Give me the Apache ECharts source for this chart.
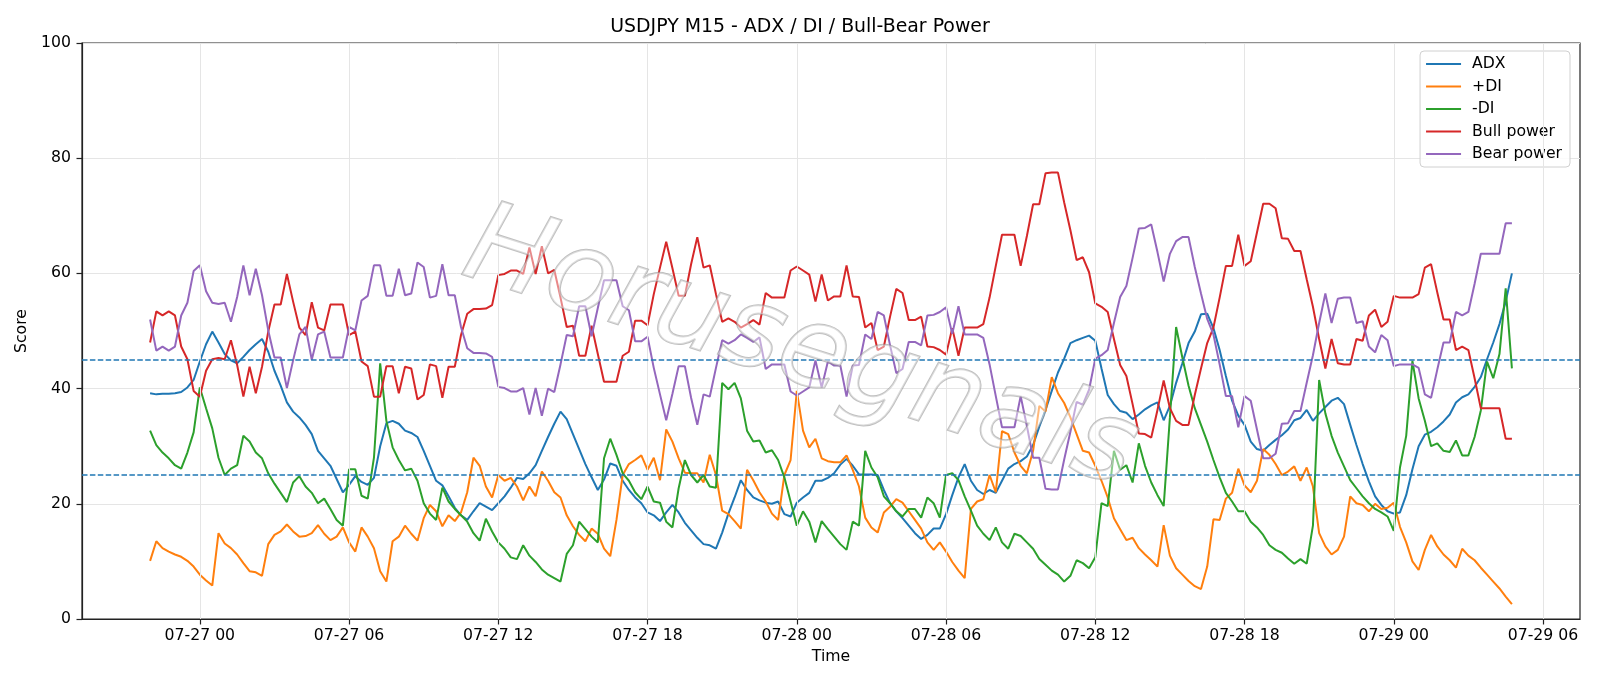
<!DOCTYPE html>
<html>
<head>
<meta charset="utf-8">
<title>USDJPY M15 - ADX / DI / Bull-Bear Power</title>
<script src="https://cdn.jsdelivr.net/npm/echarts@6/dist/echarts.min.js"></script>
<style>
  html, body { margin: 0; padding: 0; background: #fff; }
  #chart { width: 1600px; height: 686px; }
</style>
</head>
<body>
<div id="chart"></div>
<script>
// 15-minute bars; x is hours from 07-27 00:00, first bar is 07-26 22:00
const startHour = -2;
const stepHour = 0.25;

const adx = [
  39.2, 39.0, 39.1, 39.1, 39.2, 39.4, 40.2, 41.5, 44.7, 47.7, 49.9, 48.0, 46.0, 44.9, 44.4, 45.5, 46.7, 47.7, 48.6, 46.4,
  43.1, 40.5, 37.6, 36.0, 35.0, 33.7, 32.1, 29.2, 27.9, 26.6, 24.3, 22.0, 23.3, 24.8, 23.8, 23.3, 24.5, 30.0, 34.0, 34.4,
  33.9, 32.7, 32.3, 31.6, 29.2, 26.6, 24.0, 23.2, 21.3, 19.3, 18.0, 17.2, 18.7, 20.1, 19.5, 18.9, 20.1, 21.3, 22.8, 24.5,
  24.3, 25.3, 26.7, 29.2, 31.6, 33.9, 36.0, 34.7, 32.1, 29.5, 26.9, 24.6, 22.4, 24.2, 27.0, 26.6, 24.0, 22.4, 21.1, 20.1,
  18.5, 18.0, 17.0, 18.5, 19.8, 18.5, 16.7, 15.4, 14.1, 13.0, 12.8, 12.2, 15.0, 18.3, 21.1, 24.1, 22.4, 21.1, 20.6, 20.2,
  20.0, 20.4, 18.2, 17.8, 20.2, 21.1, 21.9, 24.0, 24.0, 24.5, 25.3, 26.8, 27.8, 26.6, 25.1, 25.1, 25.1, 25.0, 22.4, 20.1,
  18.7, 17.5, 16.2, 14.9, 13.9, 14.6, 15.7, 15.7, 18.2, 21.5, 24.6, 26.9, 24.0, 22.4, 21.7, 22.4, 21.9, 24.0, 26.1, 26.9,
  27.4, 28.2, 30.2, 33.4, 36.3, 39.6, 42.8, 45.2, 47.9, 48.4, 48.8, 49.2, 48.3, 43.5, 38.9, 37.3, 36.1, 35.8, 34.7, 35.5,
  36.4, 37.1, 37.6, 34.5, 37.0, 41.0, 44.4, 47.9, 49.9, 52.9, 53.0, 50.5, 46.7, 42.2, 37.9, 35.3, 33.7, 30.8, 29.5, 29.2,
  30.2, 31.1, 31.9, 32.9, 34.5, 34.9, 36.3, 34.4, 35.7, 36.8, 37.9, 38.4, 37.3, 33.7, 30.2, 26.9, 23.9, 21.3, 19.8, 18.7,
  18.3, 18.5, 21.5, 26.0, 30.0, 32.0, 32.5, 33.3, 34.3, 35.5, 37.6, 38.5, 39.0, 40.3, 42.0, 45.1, 48.0, 51.2, 55.1, 60.0
];

const plusDI = [
  10.1, 13.5, 12.3, 11.7, 11.2, 10.8, 10.1, 9.1, 7.7, 6.7, 5.8, 14.9, 13.1, 12.3, 11.2, 9.7, 8.3, 8.1, 7.5, 13.0,
  14.6, 15.2, 16.4, 15.2, 14.3, 14.4, 14.9, 16.3, 14.8, 13.7, 14.3, 15.9, 13.3, 11.7, 15.9, 14.3, 12.3, 8.3, 6.5, 13.5,
  14.3, 16.2, 14.8, 13.6, 17.5, 19.8, 18.7, 16.1, 18.0, 17.0, 18.5, 22.0, 28.0, 26.6, 23.0, 21.1, 25.0, 24.0, 24.5, 23.0,
  20.6, 23.0, 21.3, 25.6, 24.0, 22.0, 21.1, 18.0, 16.1, 14.6, 13.5, 15.7, 14.8, 12.2, 10.9, 17.2, 25.0, 26.9, 27.6, 28.4,
  25.9, 28.0, 24.1, 32.9, 30.8, 27.9, 25.4, 25.3, 25.3, 23.7, 28.5, 25.0, 18.8, 18.2, 17.0, 15.7, 25.9, 24.1, 22.0, 20.4,
  18.3, 17.2, 25.0, 27.6, 39.6, 32.7, 29.8, 31.3, 27.9, 27.4, 27.2, 27.2, 28.4, 25.9, 23.0, 17.6, 15.9, 15.0, 18.5, 19.5,
  20.8, 20.2, 18.7, 17.2, 15.7, 13.3, 12.0, 13.3, 11.7, 9.9, 8.4, 7.1, 19.1, 20.4, 20.8, 25.0, 22.0, 32.6, 32.1, 28.9,
  26.6, 25.3, 29.2, 37.0, 36.0, 42.0, 39.2, 37.5, 35.0, 32.1, 29.2, 28.9, 26.6, 24.0, 21.1, 17.5, 15.6, 13.7, 14.1, 12.3,
  11.2, 10.2, 9.1, 16.3, 11.0, 8.8, 7.7, 6.6, 5.7, 5.2, 9.1, 17.3, 17.2, 20.9, 21.9, 26.1, 23.2, 22.0, 24.0, 29.5,
  28.5, 26.9, 25.0, 25.6, 26.5, 24.0, 26.3, 23.0, 14.9, 12.6, 11.2, 12.0, 14.3, 21.3, 20.1, 19.8, 18.7, 20.0, 19.1, 19.3,
  20.2, 16.0, 13.3, 10.0, 8.5, 12.0, 14.6, 12.6, 11.2, 10.2, 8.9, 12.2, 11.0, 10.2, 8.9, 7.7, 6.5, 5.3, 3.9, 2.6
];

const minusDI = [
  32.7, 30.2, 28.9, 27.9, 26.7, 26.1, 28.9, 32.4, 40.2, 36.6, 33.1, 28.0, 25.0, 26.1, 26.7, 31.8, 30.8, 28.9, 27.9, 25.3,
  23.5, 21.9, 20.3, 23.7, 24.8, 23.0, 21.9, 20.1, 20.9, 19.1, 17.2, 16.2, 26.0, 26.0, 21.4, 20.9, 28.0, 44.4, 34.4, 29.8,
  27.6, 25.8, 26.1, 24.0, 20.1, 18.3, 17.2, 22.8, 20.4, 19.1, 18.0, 16.9, 14.9, 13.6, 17.4, 15.2, 13.3, 12.2, 10.7, 10.4,
  12.8, 11.0, 9.9, 8.6, 7.7, 7.1, 6.5, 11.3, 12.8, 16.9, 15.6, 14.3, 13.3, 27.9, 31.3, 28.5, 25.3, 24.0, 22.0, 20.8,
  23.0, 20.4, 20.2, 16.9, 15.9, 22.7, 27.6, 25.0, 23.7, 25.0, 23.0, 22.8, 41.0, 39.9, 41.0, 38.3, 32.7, 30.8, 31.0, 28.9,
  29.3, 27.6, 24.6, 20.4, 16.2, 18.7, 16.9, 13.3, 17.0, 15.6, 14.3, 13.0, 12.0, 16.9, 16.2, 29.2, 26.3, 24.6, 21.3, 20.1,
  18.7, 17.8, 19.1, 19.1, 17.6, 21.1, 20.1, 17.6, 25.0, 25.3, 24.1, 21.3, 18.8, 16.2, 14.8, 13.7, 15.9, 13.3, 12.2, 14.8,
  14.4, 13.3, 12.2, 10.4, 9.4, 8.4, 7.7, 6.5, 7.5, 10.2, 9.7, 8.8, 10.7, 20.1, 19.6, 29.2, 25.9, 26.7, 23.7, 30.5,
  26.6, 23.7, 21.5, 19.6, 35.0, 50.7, 45.4, 40.5, 36.6, 33.7, 30.8, 27.6, 24.6, 21.9, 20.4, 18.7, 18.7, 16.9, 15.9, 14.6,
  12.8, 12.0, 11.5, 10.5, 9.6, 10.4, 9.6, 16.2, 41.5, 35.7, 31.8, 28.9, 26.5, 24.1, 22.7, 21.3, 20.1, 19.1, 18.5, 17.8,
  15.3, 26.3, 31.8, 44.8, 38.3, 34.4, 30.0, 30.5, 29.2, 29.0, 31.0, 28.4, 28.4, 31.6, 36.2, 44.7, 41.8, 46.0, 57.4, 43.5
];

const bullPower = [
  48.0, 53.4, 52.7, 53.4, 52.7, 47.3, 45.1, 39.6, 38.6, 43.1, 45.1, 45.3, 45.1, 48.4, 44.1, 38.6, 43.8, 39.2, 43.8, 49.9,
  54.6, 54.6, 59.9, 55.1, 50.6, 49.3, 55.0, 50.6, 50.1, 54.6, 54.6, 54.6, 49.3, 49.9, 44.7, 43.9, 38.6, 38.6, 43.9, 43.9,
  39.2, 43.8, 43.5, 38.1, 38.9, 44.2, 43.9, 38.4, 43.8, 43.8, 49.3, 53.0, 53.8, 53.8, 53.9, 54.5, 59.7, 59.9, 60.5, 60.5,
  59.9, 64.5, 59.9, 64.7, 60.0, 60.6, 55.8, 50.7, 50.9, 45.7, 45.7, 50.9, 46.0, 41.2, 41.2, 41.2, 45.7, 46.4, 51.8, 51.8,
  51.0, 56.4, 61.0, 65.5, 60.9, 56.1, 56.1, 61.6, 66.3, 61.0, 61.4, 56.4, 51.6, 52.2, 51.6, 50.6, 51.2, 51.9, 51.1, 56.6,
  55.8, 55.8, 55.8, 60.5, 61.2, 60.5, 59.8, 55.1, 59.8, 55.3, 56.0, 56.0, 61.4, 56.0, 55.9, 50.6, 51.4, 46.7, 47.3, 52.5,
  57.3, 56.6, 51.9, 51.9, 52.5, 47.3, 47.2, 46.7, 45.9, 50.5, 45.7, 50.6, 50.6, 50.6, 51.2, 55.8, 61.3, 66.7, 66.7, 66.7,
  61.3, 66.5, 72.0, 72.0, 77.4, 77.5, 77.5, 72.3, 67.5, 62.3, 62.8, 60.2, 54.8, 54.2, 53.3, 48.6, 44.1, 42.2, 37.3, 32.2,
  32.1, 31.5, 36.3, 41.4, 36.6, 34.4, 33.7, 33.7, 38.9, 43.5, 47.9, 50.6, 55.8, 61.3, 61.3, 66.7, 61.3, 62.1, 67.1, 72.1,
  72.1, 71.3, 66.1, 66.0, 63.9, 63.9, 59.0, 54.2, 48.6, 43.5, 48.6, 44.4, 44.2, 44.2, 48.6, 48.3, 52.7, 53.7, 50.7, 51.6,
  56.1, 55.8, 55.8, 55.8, 56.4, 61.0, 61.6, 56.7, 52.0, 52.0, 46.7, 47.3, 46.7, 41.8, 36.6, 36.6, 36.6, 36.6, 31.3, 31.3
];

const bearPower = [
  52.0, 46.6, 47.3, 46.6, 47.3, 52.7, 54.9, 60.4, 61.4, 56.9, 54.9, 54.7, 54.9, 51.6, 55.9, 61.4, 56.2, 60.8, 56.2, 50.1,
  45.4, 45.4, 40.1, 44.9, 49.4, 50.7, 45.0, 49.4, 49.9, 45.4, 45.4, 45.4, 50.7, 50.1, 55.3, 56.1, 61.4, 61.4, 56.1, 56.1,
  60.8, 56.2, 56.5, 61.9, 61.1, 55.8, 56.1, 61.6, 56.2, 56.2, 50.7, 47.0, 46.2, 46.2, 46.1, 45.5, 40.3, 40.1, 39.5, 39.5,
  40.1, 35.5, 40.1, 35.3, 40.0, 39.4, 44.2, 49.3, 49.1, 54.3, 54.3, 49.1, 54.0, 58.8, 58.8, 58.8, 54.3, 53.6, 48.2, 48.2,
  49.0, 43.6, 39.0, 34.5, 39.1, 43.9, 43.9, 38.4, 33.7, 39.0, 38.6, 43.6, 48.4, 47.8, 48.4, 49.4, 48.8, 48.1, 48.9, 43.4,
  44.2, 44.2, 44.2, 39.5, 38.8, 39.5, 40.2, 44.9, 40.2, 44.7, 44.0, 44.0, 38.6, 44.0, 44.1, 49.4, 48.6, 53.3, 52.7, 47.5,
  42.7, 43.4, 48.1, 48.1, 47.5, 52.7, 52.8, 53.3, 54.1, 49.5, 54.3, 49.4, 49.4, 49.4, 48.8, 44.2, 38.7, 33.3, 33.3, 33.3,
  38.7, 33.5, 28.0, 28.0, 22.6, 22.5, 22.5, 27.7, 32.5, 37.7, 37.2, 39.8, 45.2, 45.8, 46.7, 51.4, 55.9, 57.8, 62.7, 67.8,
  67.9, 68.5, 63.7, 58.6, 63.4, 65.6, 66.3, 66.3, 61.1, 56.5, 52.1, 49.4, 44.2, 38.7, 38.7, 33.3, 38.7, 37.9, 32.9, 27.9,
  27.9, 28.7, 33.9, 34.0, 36.1, 36.1, 41.0, 45.8, 51.4, 56.5, 51.4, 55.6, 55.8, 55.8, 51.4, 51.7, 47.3, 46.3, 49.3, 48.4,
  43.9, 44.2, 44.2, 44.2, 43.6, 39.0, 38.4, 43.3, 48.0, 48.0, 53.3, 52.7, 53.3, 58.2, 63.4, 63.4, 63.4, 63.4, 68.7, 68.7
];

// reference levels drawn as dashed lines
const thresholds = [25, 45];

// x ticks every 6 hours (hours from 07-27 00) and their labels
const xTicks = [0, 6, 12, 18, 24, 30, 36, 42, 48, 54];
const xTickLabels = ["07-27 00", "07-27 06", "07-27 12", "07-27 18", "07-28 00",
  "07-28 06", "07-28 12", "07-28 18", "07-29 00", "07-29 06"];

const hours = adx.map((_, i) => startHour + i * stepHour);
const xFirst = hours[0];
const xLast = hours[hours.length - 1];
const pad = (xLast - xFirst) * 0.05; // matplotlib default margin

const toPairs = (vals) => vals.map((v, i) => [hours[i], v]);

const font = "DejaVu Sans";
const fs = 15.7;
const gridColor = "#e5e5e5";

const chart = echarts.init(document.getElementById("chart"), null, { renderer: "canvas" });

const lineSeries = (name, color, vals) => ({
  name: name,
  type: "line",
  z: 3,
  data: toPairs(vals),
  showSymbol: false,
  symbol: "none",
  lineStyle: { color: color, width: 2 },
  itemStyle: { color: color },
  emphasis: { disabled: true },
});

const series = [
  // vertical grid lines at the 6-hour ticks, kept under the data
  {
    name: "xgrid",
    type: "line",
    z: 1,
    data: [],
    silent: true,
    markLine: {
      silent: true,
      symbol: "none",
      label: { show: false },
      lineStyle: { color: gridColor, type: "solid", width: 1 },
      data: xTicks.map((v) => ({ xAxis: v })),
    },
  },
  lineSeries("ADX", "#1f77b4", adx),
  lineSeries("+DI", "#ff7f0e", plusDI),
  lineSeries("-DI", "#2ca02c", minusDI),
  lineSeries("Bull power", "#d62728", bullPower),
  lineSeries("Bear power", "#9467bd", bearPower),
];

// dashed ADX levels
series[5].markLine = {
  silent: true,
  symbol: "none",
  label: { show: false },
  lineStyle: { color: "#1f77b4", type: [5.5, 2.4], width: 1.5 },
  data: thresholds.map((v) => ({ yAxis: v })),
};

const option = {
  animation: false,
  backgroundColor: "#fff",
  textStyle: { fontFamily: font },
  title: {
    text: "USDJPY M15 - ADX / DI / Bull-Bear Power",
    left: "center",
    top: 18,
    padding: 0,
    textStyle: { fontFamily: font, fontSize: 18.9, fontWeight: "normal", color: "#000" },
  },
  grid: {
    left: 82,
    right: 20,
    top: 43,
    bottom: 67,
    show: true,
    borderColor: "#222",
    borderWidth: 1.2,
  },
  legend: {
    orient: "vertical",
    right: 30,
    top: 51,
    data: ["ADX", "+DI", "-DI", "Bull power", "Bear power"],
    icon: "rect",
    itemWidth: 35,
    itemHeight: 2,
    itemGap: 6.5,
    padding: [5, 8, 5, 6],
    backgroundColor: "rgba(255,255,255,0.85)",
    borderColor: "#d0d0d0",
    borderWidth: 1,
    borderRadius: 4,
    textStyle: { fontFamily: font, fontSize: fs, color: "#000", padding: [0, 0, 0, 6] },
  },
  xAxis: {
    type: "value",
    min: xFirst - pad,
    max: xLast + pad,
    name: "Time",
    nameLocation: "middle",
    nameGap: 30,
    nameTextStyle: { fontFamily: font, fontSize: fs, color: "#000" },
    axisLine: { show: true, onZero: false, lineStyle: { color: "#222", width: 1.2 } },
    axisTick: { show: true, length: 5.5, lineStyle: { color: "#222", width: 1.2 }, customValues: xTicks },
    axisLabel: {
      customValues: xTicks,
      formatter: (v) => xTickLabels[xTicks.indexOf(v)] || "",
      fontFamily: font,
      fontSize: fs,
      color: "#000",
      margin: 9,
    },
    splitLine: { show: false },
  },
  yAxis: {
    type: "value",
    min: 0,
    max: 100,
    interval: 20,
    name: "Score",
    nameLocation: "middle",
    nameGap: 42,
    nameTextStyle: { fontFamily: font, fontSize: fs, color: "#000" },
    axisLine: { show: true, onZero: false, lineStyle: { color: "#222", width: 1.2 } },
    axisTick: { show: true, length: 5.5, lineStyle: { color: "#222", width: 1.2 } },
    axisLabel: { fontFamily: font, fontSize: fs, color: "#000", margin: 11 },
    splitLine: { show: true, lineStyle: { color: gridColor, width: 1 } },
  },
  graphic: [
    {
      type: "text",
      x: 800,
      y: 352,
      rotation: -0.31,
      z: 100,
      silent: true,
      style: {
        text: "Horusegnals",
        font: "italic 112px DejaVu Sans",
        align: "center",
        verticalAlign: "middle",
        fill: "rgba(255,255,255,0.45)",
        stroke: "rgba(150,150,150,0.6)",
        lineWidth: 2,
      },
    },
  ],
  series: series,
};

chart.setOption(option);
</script>
</body>
</html>
